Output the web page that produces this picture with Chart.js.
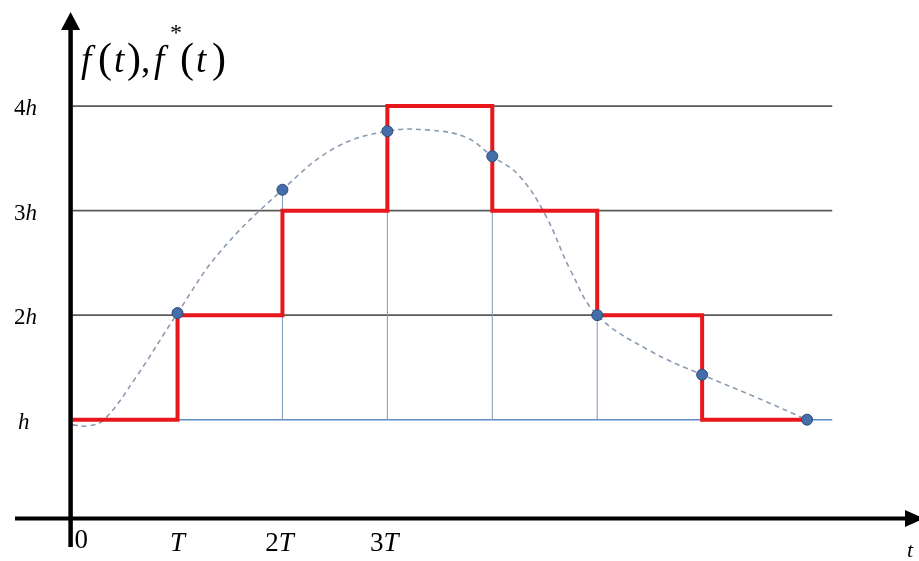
<!DOCTYPE html>
<html>
<head>
<meta charset="utf-8">
<script src="https://cdn.jsdelivr.net/npm/chart.js@4"></script>
<style>
body{margin:0;background:#fff}
#wrap{width:919px;height:561px;position:relative}
</style>
</head>
<body>
<div id="wrap"><canvas id="myChart"></canvas></div>
<script>
// sampling instants (in T) and sampled values (in h)
const sampleT = [1, 2, 3, 4, 5, 6, 7];
const sampleV = [2.02, 3.2, 3.76, 3.52, 2.0, 1.43, 1.0];
// staircase f*(t), value held on [kT,(k+1)T]
const stepT = [0, 1, 2, 3, 4, 5, 6, 7];
const stepV = [1, 2, 3, 4, 3, 2, 1, 1];
// continuous f(t)
const curveT = [0, 0.15, 0.3, 0.6, 1.0, 1.4, 2.0, 2.5, 3.0, 3.4, 3.75, 4.0, 4.25, 4.5, 4.75, 5.0, 5.5, 6.0, 6.5, 7.0];
const curveV = [0.95, 0.94, 1.0, 1.4, 2.02, 2.6, 3.2, 3.6, 3.76, 3.77, 3.7, 3.52, 3.34, 2.97, 2.42, 2.0, 1.66, 1.43, 1.22, 1.0];
// horizontal reference levels
const gridLevels = [2, 3, 4];
const baseLevel = 1;
const gridEnd = 7.24;
// tick labels
const yTickValues = [1, 2, 3, 4];
const yTickLabels = ['h', '2h', '3h', '4h'];
const xTickValues = [0, 1, 2, 3];
const xTickLabels = ['0', 'T', '2T', '3T'];

const ctx = document.getElementById('myChart');

function pts(xs, ys){
	return xs.map((x, i) => ({x: x, y: ys[i]}));
}

const datasets = [];
// dots on top
datasets.push({
	data: pts(sampleT, sampleV),
	showLine: false,
	pointRadius: 5.5,
	pointBackgroundColor: '#456da9',
	pointBorderColor: '#2b4b7c',
	pointBorderWidth: 1
});
// red staircase
datasets.push({
	data: pts(stepT, stepV),
	stepped: true,
	borderColor: '#e8171b',
	borderWidth: 4,
	pointRadius: 0,
	borderJoinStyle: 'miter'
});
// dashed continuous signal
datasets.push({
	data: pts(curveT, curveV),
	borderColor: '#8a9bb2',
	borderWidth: 1.6,
	borderDash: [5, 4],
	tension: 0.4,
	pointRadius: 0
});
// thin verticals from base level up to each sample
sampleT.forEach((t, i) => {
	datasets.push({
		data: [{x: t, y: baseLevel}, {x: t, y: sampleV[i]}],
		borderColor: '#7f97ba',
		borderWidth: 1,
		pointRadius: 0
	});
});
// base level (blue)
datasets.push({
	data: [{x: 0, y: baseLevel}, {x: gridEnd, y: baseLevel}],
	borderColor: '#5f8bc4',
	borderWidth: 1.5,
	pointRadius: 0
});
// gray levels
gridLevels.forEach(v => {
	datasets.push({
		data: [{x: 0, y: v}, {x: gridEnd, y: v}],
		borderColor: '#5a5a5a',
		borderWidth: 1.8,
		pointRadius: 0
	});
});

const sketch = {
	id: 'sketch',
	afterDraw(chart){
		const c = chart.ctx;
		const xs = chart.scales.x, ys = chart.scales.y;
		const x0 = xs.getPixelForValue(0);
		const yAx = 518.5;
		c.save();
		c.fillStyle = '#000';
		c.strokeStyle = '#000';
		// axes
		c.lineWidth = 4.5;
		c.beginPath();
		c.moveTo(x0 - 2, 547);
		c.lineTo(x0 - 2, 26);
		c.stroke();
		c.lineWidth = 4;
		c.beginPath();
		c.moveTo(15, yAx);
		c.lineTo(908, yAx);
		c.stroke();
		// arrow heads
		c.beginPath();
		c.moveTo(x0 - 2, 12);
		c.lineTo(x0 - 11.5, 30);
		c.lineTo(x0 + 7.5, 30);
		c.closePath();
		c.fill();
		c.beginPath();
		c.moveTo(924, yAx);
		c.lineTo(905, yAx - 8.5);
		c.lineTo(905, yAx + 8.5);
		c.closePath();
		c.fill();

		// y tick labels
		c.textBaseline = 'alphabetic';
		c.textAlign = 'left';
		yTickLabels.forEach((lab, i) => {
			const y = ys.getPixelForValue(yTickValues[i]) + 9;
			let x = lab.length > 1 ? 14 : 18;
			const num = lab.slice(0, -1);
			if (num){
				c.font = '23px "Liberation Serif"';
				c.fillText(num, x, y);
				x += c.measureText(num).width;
			}
			c.font = 'italic 23px "Liberation Serif"';
			c.fillText('h', x, y);
		});

		// x tick labels
		xTickLabels.forEach((lab, i) => {
			const px = xs.getPixelForValue(xTickValues[i]);
			if (lab === '0'){
				c.font = '27px "Liberation Serif"';
				c.textAlign = 'left';
				c.fillText(lab, px + 2, 548);
				return;
			}
			const num = lab.slice(0, -1);
			c.font = '27px "Liberation Serif"';
			const w1 = num ? c.measureText(num).width : 0;
			c.font = 'italic 27px "Liberation Serif"';
			const w2 = c.measureText('T').width;
			let x = px - (w1 + w2) / 2 - (num ? 3 : 0);
			c.textAlign = 'left';
			if (num){
				c.font = '27px "Liberation Serif"';
				c.fillText(num, x, 551);
				x += w1;
			}
			c.font = 'italic 27px "Liberation Serif"';
			c.fillText('T', x, 551);
		});
		c.font = 'italic 22px "Liberation Serif"';
		c.fillText('t', 907, 557);

		// title f(t), f*(t)
		const it = 'italic 37px "Liberation Serif"';
		const up = '42px "Liberation Serif"';
		const parts = [
			['f', it, 81, 72], ['(', up, 98, 72], ['t', it, 114, 72], [')', up, 127, 72],
			[',', '37px "Liberation Serif"', 141, 72], ['f', it, 154, 72],
			['*', '24px "Liberation Serif"', 170, 40],
			['(', up, 180, 72], ['t', it, 196, 72], [')', up, 212, 72]
		];
		parts.forEach(p => {
			c.font = p[1];
			c.fillText(p[0], p[2], p[3]);
		});
		c.restore();
	}
};

myChart = new Chart(ctx, {
	type: 'line',
	data: { datasets: datasets },
	options: {
		responsive: true,
		maintainAspectRatio: false,
		animation: false,
		layout: { padding: 0 },
		plugins: {
			legend: { display: false },
			tooltip: { enabled: false }
		},
		scales: {
			x: { type: 'linear', min: -0.63, max: 8.005, display: false },
			y: { type: 'linear', min: -0.29, max: 4.953, display: false }
		}
	},
	plugins: [sketch]
});
</script>
</body>
</html>
